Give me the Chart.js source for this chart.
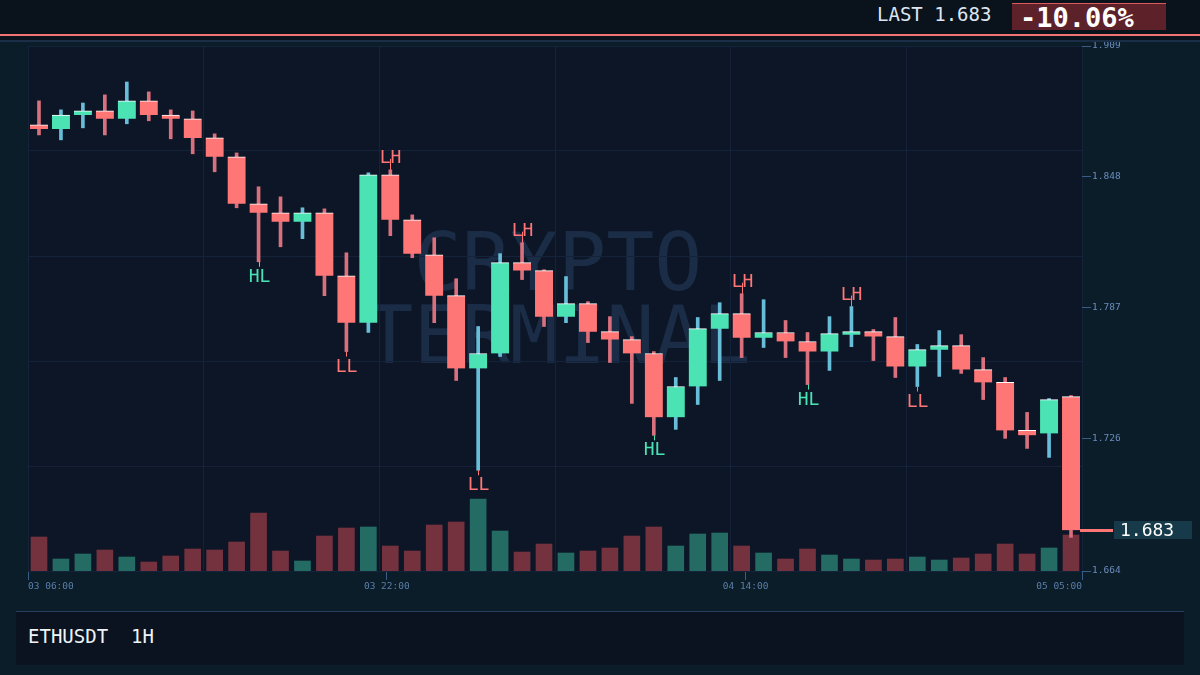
<!DOCTYPE html>
<html>
<head>
<meta charset="utf-8">
<script src="https://cdn.jsdelivr.net/npm/chart.js@4.4.0/dist/chart.umd.min.js"></script>
<style>
  body { margin: 0; width: 1200px; height: 675px; overflow: hidden; position: relative; background: #0b1d29; font-family: "DejaVu Sans Mono", monospace; }
  #chartVelas { position: absolute; left: 0; top: 0; }
  .cab { position: absolute; left: 0; top: 0; width: 1200px; height: 40px; background: #0a121c; }
  .linea-roja { position: absolute; left: 0; top: 34px; width: 1200px; height: 2px; background: #f27373; }
  .linea-azul { position: absolute; left: 0; top: 40px; width: 1200px; height: 2px; background: #1a2e47; }
  .last { position: absolute; left: 877px; top: 4px; font-size: 19px; line-height: 20px; color: #dde6f2; white-space: pre; }
  .caja-cambio { position: absolute; left: 1012px; top: 3px; width: 154px; height: 27px; background: #5c2129; border-top: 1px solid #d85c5c; box-sizing: border-box; }
  .cambio { position: absolute; left: 1020px; top: 4px; font-size: 27px; line-height: 27px; font-weight: bold; color: #ffffff; }
  .pie { position: absolute; left: 16px; top: 611px; width: 1168px; height: 54px; background: #0a131f; border-top: 1px solid #24405e; box-sizing: border-box; }
  .simbolo { position: absolute; left: 28px; top: 626px; font-size: 19px; line-height: 20px; color: #eef3f8; white-space: pre; }
</style>
</head>
<body>
<canvas id="chartVelas" width="1200" height="675"></canvas>
<div class="cab"></div>
<div class="linea-roja"></div>
<div class="linea-azul"></div>
<div class="last" id="last"></div>
<div class="caja-cambio"></div>
<div class="cambio" id="cambio"></div>
<div class="pie"></div>
<div class="simbolo" id="simbolo"></div>
<script>
// DATOS
const hours = ['03 06:00','03 07:00','03 08:00','03 09:00','03 10:00','03 11:00','03 12:00','03 13:00',
  '03 14:00','03 15:00','03 16:00','03 17:00','03 18:00','03 19:00','03 20:00','03 21:00',
  '03 22:00','03 23:00','04 00:00','04 01:00','04 02:00','04 03:00','04 04:00','04 05:00',
  '04 06:00','04 07:00','04 08:00','04 09:00','04 10:00','04 11:00','04 12:00','04 13:00',
  '04 14:00','04 15:00','04 16:00','04 17:00','04 18:00','04 19:00','04 20:00','04 21:00',
  '04 22:00','04 23:00','05 00:00','05 01:00','05 02:00','05 03:00','05 04:00','05 05:00'];

const opens = [1.8722,1.8703,1.8768,1.8787,1.8750,1.8834,1.8768,1.8750,1.8661,1.8573,
  1.8354,1.8312,1.8270,1.8312,1.8018,1.7799,1.8489,1.8279,1.8116,1.7925,
  1.7585,1.7655,1.8079,1.8042,1.7827,1.7888,1.7757,1.7720,1.7655,1.7357,
  1.7501,1.7771,1.7841,1.7729,1.7753,1.7711,1.7664,1.7743,1.7757,1.7734,
  1.7594,1.7673,1.7692,1.7580,1.7520,1.7296,1.7282,1.7454];
const closes = [1.8703,1.8768,1.8787,1.8750,1.8834,1.8768,1.8750,1.8661,1.8573,1.8354,
  1.8312,1.8270,1.8312,1.8018,1.7799,1.8489,1.8279,1.8121,1.7925,1.7585,
  1.7655,1.8079,1.8042,1.7827,1.7888,1.7757,1.7720,1.7655,1.7357,1.7501,
  1.7771,1.7841,1.7729,1.7753,1.7711,1.7664,1.7748,1.7757,1.7734,1.7594,
  1.7673,1.7692,1.7580,1.7520,1.7296,1.7273,1.7440,1.683];
const highs = [1.8834,1.8792,1.8824,1.8862,1.8922,1.8876,1.8792,1.8787,1.8680,1.8591,
  1.8433,1.8386,1.8335,1.8330,1.8125,1.8498,1.8512,1.8302,1.8195,1.8004,
  1.7781,1.8121,1.8172,1.8046,1.8014,1.7897,1.7827,1.7734,1.7664,1.7543,
  1.7823,1.7892,1.7934,1.7906,1.7809,1.7753,1.7827,1.7874,1.7767,1.7823,
  1.7697,1.7762,1.7743,1.7636,1.7543,1.7380,1.7445,1.7459];
const lows = [1.8675,1.8652,1.8708,1.8675,1.8727,1.8741,1.8657,1.8587,1.8503,1.8335,
  1.8083,1.8153,1.8191,1.7925,1.7664,1.7753,1.8205,1.8102,1.7799,1.7529,
  1.7110,1.7641,1.8000,1.7781,1.7799,1.7706,1.7613,1.7422,1.7273,1.7301,
  1.7417,1.7529,1.7636,1.7683,1.7636,1.7510,1.7576,1.7687,1.7622,1.7543,
  1.7501,1.7548,1.7562,1.7440,1.7259,1.7212,1.7170,1.6797];
const volumes = [34,12,17,21,14,9,15,22,21,29,58,20,10,35,43,44,25,20,46,49,72,40,19,27,
  18,20,23,35,44,25,37,38,25,18,12,22,16,12,11,12,14,11,13,17,27,17,23,36];

// swing labels
const markerIdx = [10, 14, 16, 20, 22, 28, 32, 35, 37, 40];
const markerType = ['HL','LL','LH','LL','LH','HL','LH','HL','LH','LL'];

const yTicks = [1.664, 1.726, 1.787, 1.848, 1.909];
const xTickIdx = [0, 16, 32, 47];

const symbol = 'ETHUSDT  1H';
const lastPrice = 1.683;
const changePct = -10.06;

// colores
const verde = '#4be3b4', rojo = '#ff7676';
const up = opens.map((o, i) => closes[i] >= o);
const bodyColors = up.map(u => u ? verde : rojo);
const wickColors = up.map(u => u ? '#68bdd9' : '#d8707d');
const volColors = up.map(u => u ? '#236b63' : '#74323e');
const fuente = 'DejaVu Sans Mono';

document.getElementById('last').textContent = 'LAST ' + lastPrice.toFixed(3);
document.getElementById('cambio').textContent = changePct.toFixed(2) + '%';
document.getElementById('simbolo').textContent = symbol;

// fondo del area + marca de agua
const fondo = {
  id: 'fondo',
  beforeDraw(chart) {
    const { ctx, chartArea: a } = chart;
    ctx.save();
    ctx.fillStyle = '#0c1626';
    ctx.fillRect(a.left, a.top, a.width, a.height);
    ctx.fillStyle = '#1a2c46';
    ctx.font = '80px "' + fuente + '"';
    ctx.textAlign = 'center';
    ctx.textBaseline = 'alphabetic';
    const cx = a.left + a.width / 2 + 3;
    ctx.fillText('CRYPTO', cx, a.top + 244);
    ctx.fillText('TERMINAL', cx, a.top + 317);
    ctx.restore();
  }
};

// LH / HL / LL
const marcas = {
  id: 'marcas',
  afterDatasetsDraw(chart) {
    const { ctx } = chart;
    const x = chart.scales.x, y = chart.scales.y;
    ctx.save();
    ctx.font = '18px "' + fuente + '"';
    ctx.textAlign = 'center';
    ctx.textBaseline = 'alphabetic';
    ctx.lineWidth = 1;
    markerIdx.forEach((i, k) => {
      const t = markerType[k];
      const px = Math.round(x.getPixelForValue(i)) + 0.5;
      const color = t === 'HL' ? verde : rojo;
      ctx.fillStyle = color;
      ctx.strokeStyle = color;
      ctx.beginPath();
      if (t === 'LH') {
        const py = y.getPixelForValue(highs[i]);
        ctx.moveTo(px, py);
        ctx.lineTo(px, py - 11);
        ctx.stroke();
        ctx.fillText(t, px, py - 7);
      } else {
        const py = y.getPixelForValue(lows[i]);
        ctx.moveTo(px, py);
        ctx.lineTo(px, py + 5);
        ctx.stroke();
        ctx.fillText(t, px, py + 20);
      }
    });
    ctx.restore();
  }
};

// precio actual
const precio = {
  id: 'precio',
  afterDraw(chart) {
    const { ctx, chartArea: a } = chart;
    const x = chart.scales.x, y = chart.scales.y;
    const py = Math.round(y.getPixelForValue(lastPrice));
    const x0 = x.getPixelForValue(closes.length - 1) + 9;
    ctx.save();
    ctx.fillStyle = rojo;
    ctx.fillRect(x0, py - 1, a.right + 31 - x0, 3);
    ctx.fillStyle = '#173a4a';
    ctx.fillRect(a.right + 32, py - 9, 78, 18);
    ctx.fillStyle = '#ffffff';
    ctx.font = '18px "' + fuente + '"';
    ctx.textBaseline = 'middle';
    ctx.fillText(lastPrice.toFixed(3), a.right + 38, py + 1);
    ctx.restore();
  }
};

const chartVelas = document.getElementById('chartVelas');

new Chart(chartVelas, {
  type: 'bar',
  data: {
    labels: hours,
    datasets: [{
      label: 'mechas',
      data: lows.map((l, i) => [l, highs[i]]),
      backgroundColor: wickColors,
      barThickness: 3,
      grouped: false,
      order: 2,
      xAxisID: 'x',
      yAxisID: 'y'
    }, {
      label: 'cuerpos',
      data: opens.map((o, i) => [o, closes[i]]),
      backgroundColor: bodyColors,
      borderColor: '#ffffff',
      borderWidth: { top: 1, right: 0, bottom: 0, left: 0 },
      borderSkipped: false,
      barThickness: 18,
      grouped: false,
      order: 1,
      xAxisID: 'x',
      yAxisID: 'y'
    }, {
      label: 'volumen',
      data: volumes,
      backgroundColor: volColors,
      barThickness: 16,
      grouped: false,
      order: 3,
      xAxisID: 'x',
      yAxisID: 'yVol'
    }]
  },
  options: {
    responsive: false,
    animation: false,
    devicePixelRatio: 1,
    layout: { padding: { left: 28, top: 46, right: 0, bottom: 0 } },
    plugins: { legend: { display: false }, tooltip: { enabled: false } },
    scales: {
      x: { display: false, offset: true },
      xt: {
        type: 'linear', position: 'bottom', min: 0, max: hours.length - 1, offset: false,
        afterBuildTicks: s => { s.ticks = xTickIdx.map(v => ({ value: v })); },
        afterFit: s => { s.height = 104; },
        ticks: {
          align: 'inner', autoSkip: false, maxRotation: 0, padding: 1,
          color: '#5b7ea8', font: { family: fuente, size: 9.5 },
          callback: v => hours[v]
        },
        grid: { offset: false, drawOnChartArea: false, drawTicks: true, tickLength: 9, tickColor: '#3a5d88' },
        border: { display: false }
      },
      xg: {
        type: 'linear', position: 'top', min: 0, max: 6, offset: false,
        afterFit: s => { s.height = 0; },
        ticks: { display: false, stepSize: 1 },
        grid: { offset: false, color: '#15233a', drawTicks: false },
        border: { display: false }
      },
      y: {
        position: 'right', min: 1.664, max: 1.909,
        afterBuildTicks: s => { s.ticks = yTicks.map(v => ({ value: v })); },
        afterFit: s => { s.width = 118; },
        ticks: {
          padding: 1, color: '#6b8cbb', font: { family: fuente, size: 9.5 },
          callback: v => v.toFixed(3)
        },
        grid: { drawOnChartArea: false, drawTicks: true, tickLength: 9, tickColor: '#3a5d88' },
        border: { display: false }
      },
      yg: {
        type: 'linear', position: 'left', min: 0, max: 5,
        afterFit: s => { s.width = 0; },
        ticks: { display: false, stepSize: 1 },
        grid: { color: '#15233a', drawTicks: false },
        border: { display: false }
      },
      yVol: { axis: 'y', display: false, min: 0, max: 525 }
    }
  },
  plugins: [fondo, marcas, precio]
});
</script>
</body>
</html>
